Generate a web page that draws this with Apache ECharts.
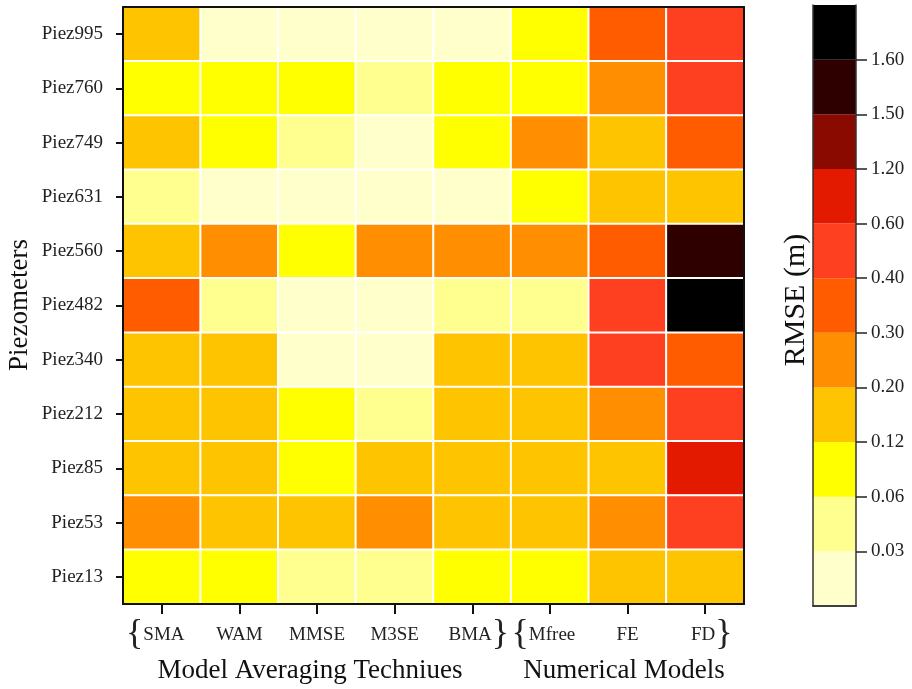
<!DOCTYPE html>
<html>
<head>
<meta charset="utf-8">
<script src="https://cdn.jsdelivr.net/npm/echarts@6/dist/echarts.min.js"></script>
<style>
html,body{margin:0;padding:0;background:#fff;}
#chart{width:912px;height:689px;}
</style>
</head>
<body>
<div id="chart"></div>
<script>
// ---- data ----
const methods = ['SMA', 'WAM', 'MMSE', 'M3SE', 'BMA', 'Mfree', 'FE', 'FD'];
const piezometers = ['Piez995', 'Piez760', 'Piez749', 'Piez631', 'Piez560', 'Piez482', 'Piez340', 'Piez212', 'Piez85', 'Piez53', 'Piez13'];
// RMSE (m) per piezometer, in the order of `methods`
const piez995 = [0.16, 0.02, 0.02, 0.02, 0.02, 0.09, 0.35, 0.50];
const piez760 = [0.09, 0.10, 0.09, 0.05, 0.09, 0.10, 0.25, 0.50];
const piez749 = [0.15, 0.09, 0.05, 0.02, 0.09, 0.25, 0.16, 0.35];
const piez631 = [0.05, 0.02, 0.02, 0.02, 0.02, 0.09, 0.16, 0.16];
const piez560 = [0.16, 0.25, 0.09, 0.26, 0.25, 0.25, 0.35, 1.55];
const piez482 = [0.35, 0.05, 0.02, 0.02, 0.05, 0.05, 0.50, 1.70];
const piez340 = [0.16, 0.15, 0.02, 0.02, 0.16, 0.16, 0.50, 0.35];
const piez212 = [0.16, 0.16, 0.09, 0.05, 0.16, 0.16, 0.25, 0.50];
const piez85  = [0.16, 0.16, 0.09, 0.16, 0.15, 0.16, 0.16, 0.90];
const piez53  = [0.25, 0.16, 0.16, 0.25, 0.16, 0.15, 0.25, 0.50];
const piez13  = [0.09, 0.09, 0.05, 0.05, 0.09, 0.09, 0.16, 0.16];
const rmseRows = [piez995, piez760, piez749, piez631, piez560, piez482, piez340, piez212, piez85, piez53, piez13];

// colour classes (bottom to top of the colour bar)
const binEdges = [0, 0.03, 0.06, 0.12, 0.20, 0.30, 0.40, 0.60, 1.20, 1.50, 1.60, Infinity];
const binLabels = ['0.03', '0.06', '0.12', '0.20', '0.30', '0.40', '0.60', '1.20', '1.50', '1.60'];
const binColors = ['#FFFFCC', '#FFFF8F', '#FFFF00', '#FFC400', '#FF8E00', '#FF5C00', '#FF4020', '#E41A00', '#8A0A00', '#2E0000', '#000000'];
const groupOpen = ['SMA', 'Mfree'];
const groupClose = ['BMA', 'FD'];

// ---- build ----
const FONT = 'Liberation Serif';
const heatData = [];
rmseRows.forEach((row, r) => row.forEach((v, c) => heatData.push([c, r, v])));

const pieces = binColors.map((col, i) => {
  const p = { gte: binEdges[i], color: col };
  if (isFinite(binEdges[i + 1])) p.lt = binEdges[i + 1];
  return p;
});

const barSeries = binColors.map((col) => ({
  type: 'bar', xAxisIndex: 2, yAxisIndex: 2, stack: 'cb',
  data: [1], barWidth: '100%', itemStyle: { color: col },
  silent: true, z: 1
}));

// colour-bar geometry
const cbTop = 5, cbHeight = 601, cbLeft = 813, cbWidth = 43;
const nBins = binColors.length;
const binH = cbHeight / nBins;

const lineStyle = { color: '#111', width: 2 };
const option = {
  animation: false,
  backgroundColor: '#fff',
  grid: [
    { left: 123, top: 7, width: 621, height: 597 },
    { left: cbLeft, top: cbTop, width: cbWidth, height: cbHeight },
    { left: cbLeft, top: cbTop + binH, width: cbWidth, height: binH * (nBins - 2) }
  ],
  xAxis: [
    {
      type: 'category', data: methods, gridIndex: 0, position: 'bottom', z: 5,
      axisLine: { show: true, lineStyle: lineStyle },
      axisTick: { show: true, interval: 0, alignWithLabel: true, length: 10, lineStyle: { color: '#111', width: 2 } },
      axisLabel: {
        interval: 0, hideOverlap: false,
        margin: 13, color: '#222', fontFamily: FONT, fontSize: 36, lineHeight: 36,
        formatter: (v) => {
          let s = '{t|' + v + '}';
          if (groupOpen.includes(v)) s = '{' + s + '{sp|\u00a0}';
          if (groupClose.includes(v)) s = '{sp|\u00a0}' + s + '}';
          return s;
        },
        rich: {
          t: { fontFamily: FONT, fontSize: 19, color: '#222', lineHeight: 36 },
          sp: { fontFamily: FONT, fontSize: 19, width: 13, lineHeight: 36 }
        }
      },
      splitLine: { show: false }
    },
    {
      type: 'category', data: methods, gridIndex: 0, position: 'top', z: 5,
      axisLine: { show: true, lineStyle: lineStyle }, axisTick: { show: false }, axisLabel: { show: false }
    },
    {
      type: 'category', data: ['RMSE'], gridIndex: 1, position: 'bottom', z: 5,
      axisLine: { show: true, lineStyle: { color: '#333', width: 1.5 } }, axisTick: { show: false }, axisLabel: { show: false }
    },
    {
      type: 'category', data: ['RMSE'], gridIndex: 1, position: 'top', z: 5,
      axisLine: { show: true, lineStyle: { color: '#333', width: 1.5 } }, axisTick: { show: false }, axisLabel: { show: false }
    },
    {
      type: 'category', data: ['RMSE'], gridIndex: 2, show: false
    }
  ],
  yAxis: [
    {
      type: 'category', data: piezometers, inverse: true, gridIndex: 0, position: 'left', z: 5,
      axisLine: { show: true, lineStyle: lineStyle },
      axisTick: { show: true, interval: 0, alignWithLabel: true, length: 7, lineStyle: { color: '#111', width: 2 } },
      axisLabel: { interval: 0, margin: 20, color: '#222', fontFamily: FONT, fontSize: 19 }
    },
    {
      type: 'category', data: piezometers, inverse: true, gridIndex: 0, position: 'right', z: 5,
      axisLine: { show: true, lineStyle: lineStyle }, axisTick: { show: false }, axisLabel: { show: false }
    },
    {
      type: 'value', gridIndex: 1, min: 0, max: nBins, interval: 1, position: 'right', z: 5,
      axisLine: { show: true, lineStyle: { color: '#333', width: 1.5 } },
      axisTick: { show: false }, axisLabel: { show: false }, splitLine: { show: false }
    },
    {
      type: 'value', gridIndex: 1, min: 0, max: nBins, position: 'left', z: 5,
      axisLine: { show: true, lineStyle: { color: '#333', width: 1.5 } },
      axisTick: { show: false }, axisLabel: { show: false }, splitLine: { show: false }
    },
    {
      // boundary ticks and labels of the colour bar (edges 1 .. nBins-1)
      type: 'value', gridIndex: 2, min: 1, max: nBins - 1, interval: 1, position: 'right', z: 6,
      axisLine: { show: false },
      axisTick: { show: true, inside: false, length: 11, lineStyle: { color: '#222', width: 1.5 } },
      axisLabel: {
        show: true, margin: 15, color: '#222', fontFamily: FONT, fontSize: 19,
        formatter: (v) => binLabels[Math.round(v) - 1] || ''
      },
      splitLine: { show: false }
    }
  ],
  visualMap: {
    type: 'piecewise', show: false, seriesIndex: 0, dimension: 2, pieces: pieces
  },
  series: [
    {
      type: 'heatmap', xAxisIndex: 0, yAxisIndex: 0, data: heatData,
      itemStyle: { borderColor: '#ffffff', borderWidth: 2 },
      emphasis: { disabled: true }
    }
  ].concat(barSeries).concat([
    { type: 'line', xAxisIndex: 4, yAxisIndex: 4, data: [], silent: true }
  ]),
  graphic: [
    { type: 'text', x: 310, y: 671, style: { text: 'Model Averaging Techniues', font: '27px "Liberation Serif"', fill: '#111', align: 'center', verticalAlign: 'middle' } },
    { type: 'text', x: 624, y: 671, style: { text: 'Numerical Models', font: '27px "Liberation Serif"', fill: '#111', align: 'center', verticalAlign: 'middle' } },
    { type: 'text', x: 20, y: 305, rotation: Math.PI / 2, style: { text: 'Piezometers', font: '27px "Liberation Serif"', fill: '#111', align: 'center', verticalAlign: 'middle' } },
    { type: 'text', x: 796, y: 300, rotation: Math.PI / 2, style: { text: 'RMSE (m)', font: '30px "Liberation Serif"', fill: '#111', align: 'center', verticalAlign: 'middle' } }
  ]
};

const chart = echarts.init(document.getElementById('chart'), null, { renderer: 'canvas' });
chart.setOption(option);
</script>
</body>
</html>
